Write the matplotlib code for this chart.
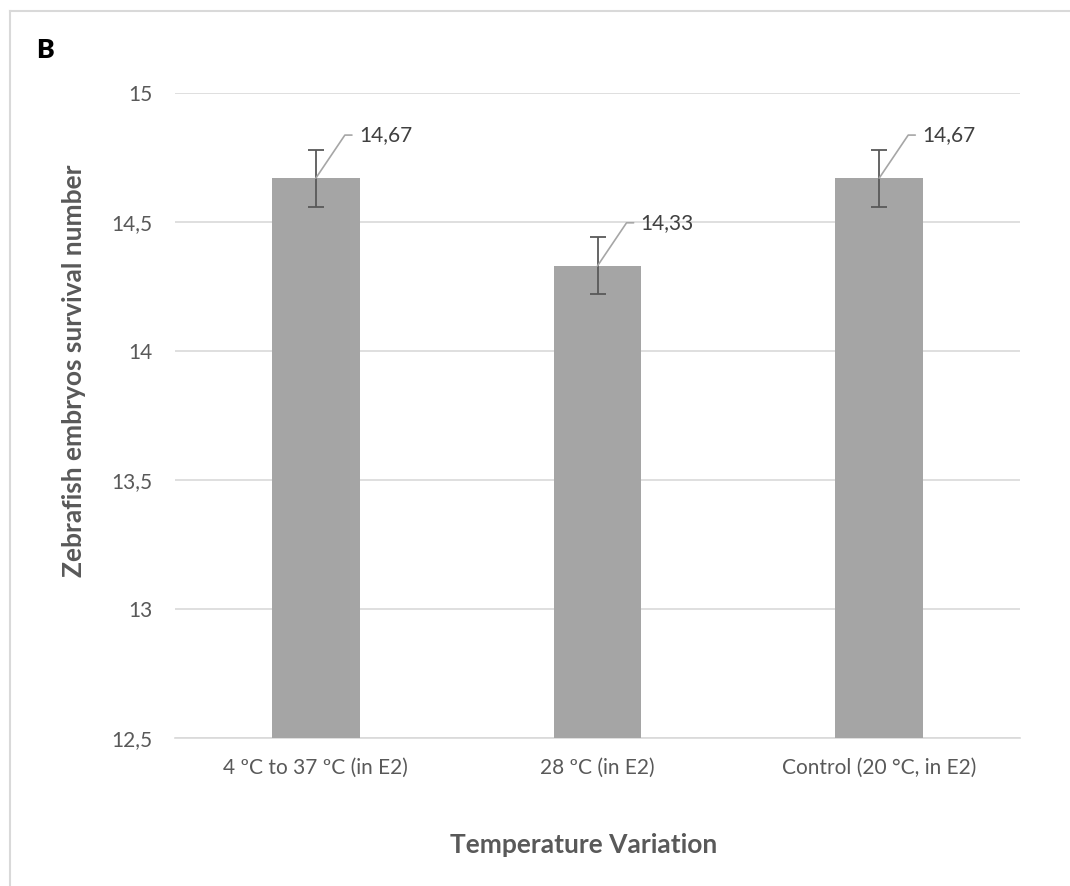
import matplotlib
matplotlib.use("Agg")
import matplotlib.pyplot as plt
from matplotlib.lines import Line2D

categories = ["4 ºC to 37 ºC (in E2)", "28 ºC (in E2)", "Control (20 °C, in E2)"]
values = [14.67, 14.33, 14.67]
errors = [0.11, 0.11, 0.11]
value_labels = ["14,67", "14,33", "14,67"]
yticks = [12.5, 13, 13.5, 14, 14.5, 15]
ytick_labels = ["12,5", "13", "13,5", "14", "14,5", "15"]

plt.rcParams['font.family'] = ['Lato', 'DejaVu Sans']

fig = plt.figure(figsize=(10.7, 8.86), dpi=100)
ax = fig.add_axes([175/1070, 1 - 738/886, 845/1070, 645/886])

x = list(range(len(categories)))
ax.bar(x, [v - 12.5 for v in values], bottom=12.5, width=0.312, color="#a5a5a5", zorder=3)
ax.errorbar(x, values, yerr=errors, fmt="none", ecolor="#595959", elinewidth=1.3,
            capsize=6, capthick=1.3, zorder=4)

for xi, v, lab in zip(x, values, value_labels):
    ax.annotate(lab, xy=(xi, v), xytext=(31, 31), textcoords="offset points",
                fontsize=15, color="#404040", va="center", ha="left",
                arrowprops=dict(arrowstyle="-", color="#a6a6a6", lw=1.2,
                                connectionstyle="angle,angleA=0,angleB=56,rad=0",
                                shrinkA=3, shrinkB=0,
                                relpos=(0, 0.5)),
                zorder=5)

ax.set_xlim(-0.5, 2.5)
ax.set_ylim(12.5, 15)
ax.set_yticks(yticks)
ax.set_yticklabels(ytick_labels, fontsize=15, color="#595959")
ax.set_xticks(x)
ax.set_xticklabels(categories, fontsize=15, color="#595959")
ax.tick_params(axis="x", length=0, pad=14)
ax.tick_params(axis="y", length=0, pad=16)
ax.grid(axis="y", color="#d9d9d9", lw=1.2, zorder=0)
for s in ["top", "right", "left"]:
    ax.spines[s].set_visible(False)
ax.spines["bottom"].set_color("#d9d9d9")
ax.spines["bottom"].set_linewidth(1.2)

fig.text(74/1070, 1 - 371/886, "Zebrafish embryos survival number", fontsize=19,
         fontweight="bold", color="#595959", ha="center", va="center", rotation=90)
fig.text(584/1070, 1 - 845/886, "Temperature Variation", fontsize=19, fontweight="bold",
         color="#595959", ha="center", va="center")
fig.text(36/1070, 1 - 50/886, "B", fontsize=19, fontweight="heavy", color="black",
         ha="left", va="center")

fig.add_artist(Line2D([10/1070, 1], [1 - 11/886, 1 - 11/886], color="#d9d9d9", lw=1.5,
                      transform=fig.transFigure))
fig.add_artist(Line2D([10/1070, 10/1070], [0, 1 - 11/886], color="#d9d9d9", lw=1.5,
                      transform=fig.transFigure))

fig.savefig("out.png", dpi=100)
